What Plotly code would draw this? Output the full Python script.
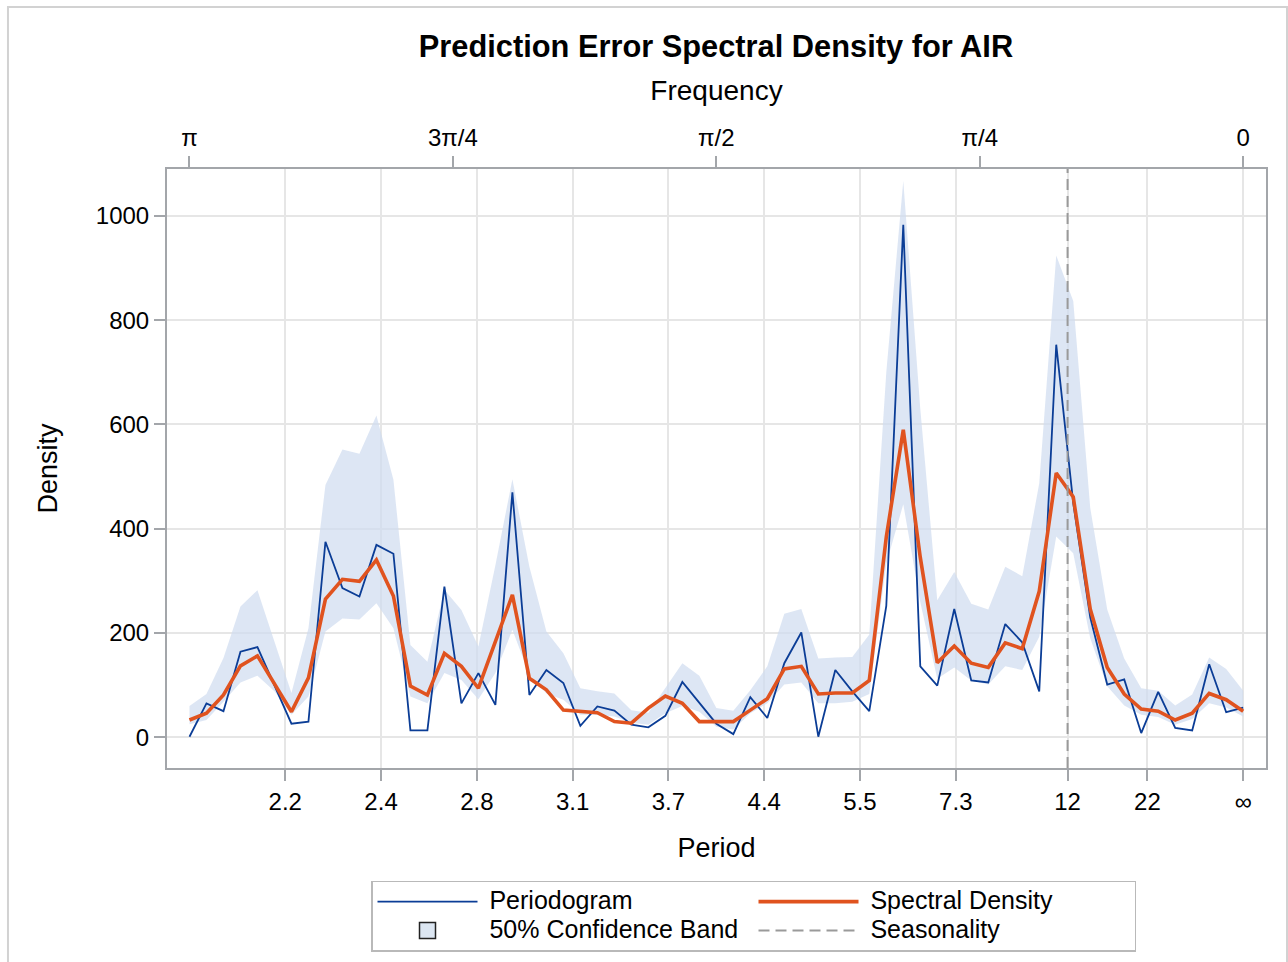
import numpy as np
import plotly.graph_objects as go

# Fourier frequencies 2*pi*k/124, listed from k=62 (pi, left) down to k=0 (right)
n_obs = 124
fourier_k = list(range(62, -1, -1))

periodogram = [1, 65, 50, 164, 173, 100, 26, 30, 375, 286,
               270, 369, 352, 13, 13, 289, 65, 123, 62, 470,
               81, 129, 104, 22, 59, 51, 24, 19, 41, 106,
               65, 26, 6, 77, 37, 142, 201, 1, 129, 88,
               50, 252, 983, 136, 99, 246, 109, 105, 217, 182,
               88, 753, 449, 230, 101, 111, 8, 87, 18, 13,
               140, 48, 57]

spectral = [33, 46, 81, 137, 156, 102, 49, 114, 265, 303,
            299, 340, 271, 98, 81, 161, 136, 94, 182, 273,
            113, 91, 52, 49, 47, 30, 27, 56, 79, 65,
            30, 30, 30, 52, 74, 131, 136, 83, 85, 85,
            109, 384, 590, 345, 143, 175, 142, 134, 181, 170,
            280, 507, 461, 246, 134, 83, 54, 50, 33, 46,
            84, 72, 50]

band_upper = [60, 83, 152, 251, 282, 185, 85, 209, 484, 552,
              544, 617, 494, 177, 145, 283, 244, 174, 330, 495,
              327, 203, 161, 94, 88, 84, 52, 47, 94, 142,
              118, 56, 51, 90, 136, 237, 246, 151, 153, 154,
              197, 700, 1067, 630, 263, 317, 256, 245, 327, 309,
              487, 924, 837, 440, 245, 151, 94, 89, 61, 82,
              153, 131, 89]

band_lower = [25, 33, 68, 105, 118, 88, 43, 78, 203, 228,
              226, 257, 209, 78, 65, 123, 110, 73, 123, 206,
              120, 84, 72, 43, 43, 40, 28, 24, 46, 60,
              49, 20, 15, 46, 65, 101, 105, 65, 65, 68,
              83, 333, 447, 259, 112, 134, 109, 101, 136, 129,
              193, 385, 353, 190, 98, 61, 43, 39, 24, 35,
              65, 57, 40]

season = 12
period_ticks = [22 / 10, 22 / 9, 22 / 8, 22 / 7, 22 / 6, 22 / 5, 22 / 4, 22 / 3, 12, 22, np.inf]
period_labels = ['2.2', '2.4', '2.8', '3.1', '3.7', '4.4', '5.5', '7.3', '12', '22', '∞']
freq_ticks = [np.pi, 3 * np.pi / 4, np.pi / 2, np.pi / 4, 0]
freq_labels = ['π', '3π/4', 'π/2', 'π/4', '0']
y_ticks = [0, 200, 400, 600, 800, 1000]

freq = 2 * np.pi * np.array(fourier_k) / n_obs
period_tick_freq = [0.0 if np.isinf(p) else 2 * np.pi / p for p in period_ticks]

BLUE = '#0b3d96'
ORANGE = '#e0531f'
BAND = 'rgba(206,220,239,0.7)'
AXIS = '#a3a6aa'
GRID = '#e6e6e6'
FONT = 'Liberation Sans, Arial, sans-serif'

x_range = [np.pi + 0.067, -0.068]
y_range = [-59, 1090]


def legend_name(text):
    # bigger text than the legend font so the rows stay compact
    return '<span style="font-size:25px">\u00a0' + text + '</span>'


fig = go.Figure()
fig.add_trace(go.Scatter(x=freq, y=band_lower, mode='lines', line=dict(width=0),
                         showlegend=False, hoverinfo='skip'))
fig.add_trace(go.Scatter(x=freq, y=band_upper, mode='lines', line=dict(width=0),
                         fill='tonexty', fillcolor=BAND, showlegend=False, hoverinfo='skip'))
fig.add_trace(go.Scatter(x=freq, y=periodogram, mode='lines', name=legend_name('Periodogram'),
                         line=dict(color=BLUE, width=1.8), legendrank=1))
fig.add_trace(go.Scatter(x=freq, y=spectral, mode='lines', name=legend_name('Spectral Density'),
                         line=dict(color=ORANGE, width=3.6), legendrank=2))
# legend-only entry for the band
fig.add_trace(go.Scatter(x=[None], y=[None], mode='markers', name=legend_name('50% Confidence Band'),
                         marker=dict(symbol='square', size=17, color='#dce6f2',
                                     line=dict(color='#222222', width=1.5)),
                         legendrank=3))
# dummy trace so the top frequency axis is drawn
fig.add_trace(go.Scatter(x=[None], y=[None], xaxis='x2', showlegend=False, hoverinfo='skip'))

fig.add_shape(type='line', x0=2 * np.pi / season, x1=2 * np.pi / season, xref='x',
              y0=0, y1=1, yref='paper', line=dict(color='#9a9a9a', width=2, dash='11px,6px'),
              showlegend=True, name=legend_name('Seasonality'), legendrank=4)
# outer graph border
fig.add_shape(type='rect', xref='paper', yref='paper', x0=-0.1447, x1=1.0191,
              y0=-0.40, y1=1.2705, line=dict(color='#d2d2d2', width=2), layer='below')

fig.update_layout(
    width=1288, height=962,
    margin=dict(l=167, r=22, t=169, b=194, autoexpand=False),
    paper_bgcolor='white', plot_bgcolor='white',
    font=dict(family=FONT, size=24, color='black'),
    title=dict(text='<b>Prediction Error Spectral Density for AIR</b>',
               x=0.4995, xanchor='center', y=1 - 46 / 962, yanchor='middle',
               yref='container', xref='paper', font=dict(size=30.8, family=FONT)),
    xaxis=dict(range=x_range, tickmode='array', tickvals=period_tick_freq, ticktext=period_labels,
               showgrid=True, gridcolor=GRID, gridwidth=1.5, zeroline=False,
               showline=True, linecolor=AXIS, linewidth=2, mirror=True,
               ticks='outside', ticklen=11, tickwidth=2, tickcolor=AXIS, automargin=False,
               title=dict(text='Period', font=dict(size=27), standoff=24),
               tickfont=dict(size=24)),
    xaxis2=dict(range=x_range, overlaying='x', side='top', tickmode='array',
                tickvals=freq_ticks, ticktext=freq_labels, showgrid=False, zeroline=False,
                showline=True, linecolor=AXIS, linewidth=2, automargin=False,
                ticks='outside', ticklen=11, tickwidth=2, tickcolor=AXIS,
                title=dict(text='Frequency', font=dict(size=28), standoff=16),
                tickfont=dict(size=24)),
    yaxis=dict(range=y_range, tickmode='array', tickvals=y_ticks,
               showgrid=True, gridcolor=GRID, gridwidth=1.5, zeroline=False,
               showline=True, linecolor=AXIS, linewidth=2, mirror=True,
               ticks='outside', ticklen=11, tickwidth=2, tickcolor=AXIS, automargin=False,
               title=dict(text='Density', font=dict(size=27), standoff=30),
               tickfont=dict(size=24)),
    legend=dict(orientation='h', x=(371 - 167) / 1099, xanchor='left', y=-0.188, yanchor='top',
                bordercolor='#b9b9b9', borderwidth=1.5, bgcolor='white',
                font=dict(size=20), entrywidth=266, itemwidth=100,
                traceorder='normal'),
    showlegend=True,
)

fig.write_html('out.html', config={'displayModeBar': False},
               post_script="document.body.style.margin='0';")
